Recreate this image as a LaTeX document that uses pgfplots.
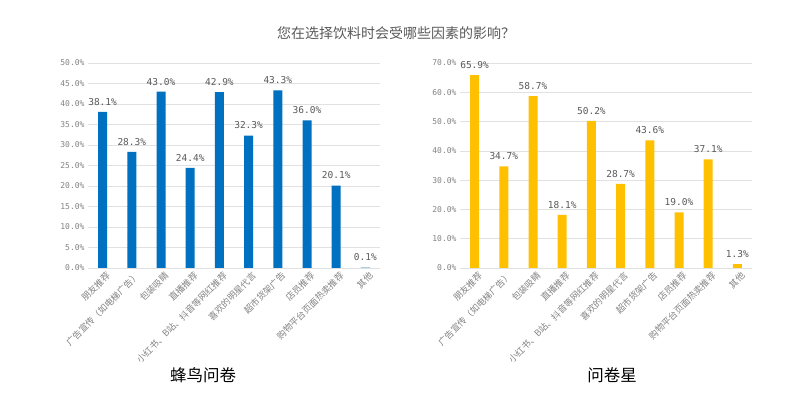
\documentclass[border=0pt]{standalone}
\usepackage{pgfplots}
\pgfplotsset{compat=1.18}
\usepackage{fontspec}
\setmainfont{Noto Sans CJK SC}
\newfontfamily\numfont{DejaVu Sans Mono}
\definecolor{barblue}{RGB}{0,112,192}
\definecolor{baryellow}{RGB}{255,192,0}
\definecolor{txtgray}{RGB}{89,89,89}
\definecolor{tickgray}{RGB}{130,130,130}
\definecolor{gridgray}{RGB}{225,225,225}
\pgfplotsset{mystyle/.style={
  scale only axis, width=292pt, height=205pt,
  xmin=-0.5, xmax=9.5, ymin=0,
  axis line style={draw=none},
  tick style={draw=none},
  ymajorgrids, grid style={gridgray, line width=0.6pt},
  xtick={0,...,9},
  xticklabels={朋友推荐,广告宣传（如电梯广告）,包装吸睛,直播推荐,小红书、B站、抖音等网红推荐,喜欢的明星代言,超市货架广告,店员推荐,购物平台页面热卖推荐,其他},
  xticklabel style={rotate=45, anchor=north east, font=\fontsize{9}{10}\selectfont, text=tickgray, inner sep=1pt, xshift=4pt},
  /pgf/number format/assume math mode=true,
  yticklabel={\pgfmathprintnumber[fixed,fixed zerofill,precision=1]{\tick}\%},
  yticklabel style={font=\numfont\fontsize{8}{9}\selectfont, text=tickgray},
  ybar, bar width=9pt,
  nodes near coords={\pgfmathprintnumber[fixed,fixed zerofill,precision=1]{\pgfplotspointmeta}\%},
  nodes near coords style={font=\numfont\fontsize{9.5}{10}\selectfont, text=txtgray, yshift=3pt},
}}
\begin{document}
\begin{tikzpicture}
\path[use as bounding box] (0,0) rectangle (800pt,393pt);
\node[text=txtgray, font=\fontsize{14}{16}\selectfont] at (396pt,360pt) {您在选择饮料时会受哪些因素的影响？};
\begin{axis}[mystyle, at={(88pt,125pt)}, anchor=south west, ymax=50, ytick={0,5,...,50}]
\addplot[fill=barblue, draw=none] coordinates {(0,38.1) (1,28.3) (2,43.0) (3,24.4) (4,42.9) (5,32.3) (6,43.3) (7,36.0) (8,20.1) (9,0.1)};
\end{axis}
\begin{axis}[mystyle, at={(460pt,125pt)}, anchor=south west, ymax=70, ytick={0,10,...,70}]
\addplot[fill=baryellow, draw=none] coordinates {(0,65.9) (1,34.7) (2,58.7) (3,18.1) (4,50.2) (5,28.7) (6,43.6) (7,19.0) (8,37.1) (9,1.3)};
\end{axis}
\node[font=\fontsize{16.5}{18}\selectfont] at (203pt,18pt) {蜂鸟问卷};
\node[font=\fontsize{16.5}{18}\selectfont] at (612pt,18pt) {问卷星};
\end{tikzpicture}
\end{document}
